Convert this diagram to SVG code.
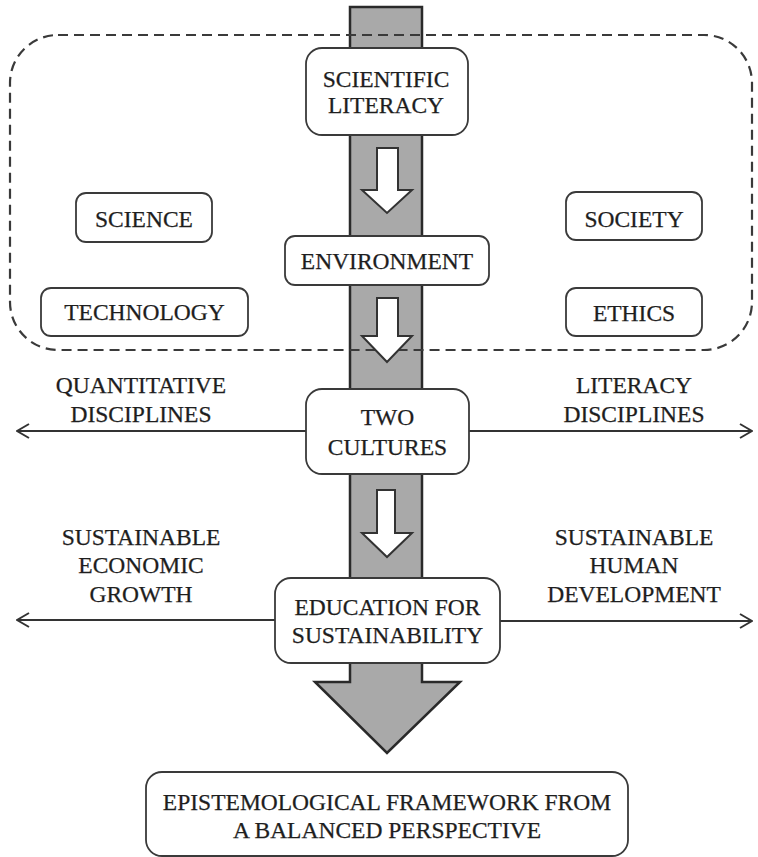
<svg xmlns="http://www.w3.org/2000/svg" width="758" height="857" viewBox="0 0 758 857">
<defs>
<style>
.box{fill:#fff;stroke:#3a3a3a;stroke-width:1.8}
.t{font-family:"Liberation Serif","Times New Roman",serif;font-size:23.5px;fill:#1e1e1e;stroke:#1e1e1e;stroke-width:0.25;text-anchor:middle}
.ln{stroke:#333;stroke-width:2;fill:none}
.wa{fill:#fff;stroke:#333;stroke-width:2;stroke-linejoin:miter}
</style>
<marker id="ah" viewBox="0 0 14 16" refX="13" refY="8" markerWidth="14" markerHeight="16" markerUnits="userSpaceOnUse" orient="auto">
<path d="M1,1 L13,8 L1,15" fill="none" stroke="#333" stroke-width="2"/>
</marker>
</defs>
<rect width="758" height="857" fill="#fff"/>
<g id="shaft">
<polygon points="350,7 422,7 422,682 460,682 387,753 315,682 350,682" fill="#a9a9a9" stroke="#2a2a2a" stroke-width="2.5" stroke-linejoin="miter"/>
</g>
<g id="dashed-group">
<rect x="10" y="35" width="742" height="315" rx="48" fill="none" stroke="#3a3a3a" stroke-width="2.2" stroke-dasharray="10,6"/>
</g>
<g id="connectors">
<line class="ln" x1="306" y1="431" x2="17" y2="431" marker-end="url(#ah)"/>
<line class="ln" x1="469" y1="431" x2="752" y2="431" marker-end="url(#ah)"/>
<line class="ln" x1="275" y1="620" x2="17" y2="620" marker-end="url(#ah)"/>
<line class="ln" x1="500" y1="621" x2="752" y2="621" marker-end="url(#ah)"/>
<polygon class="wa" points="377,148 398,148 398,190 412,190 387,213 362,190 377,190"/>
<polygon class="wa" points="377,298 398,298 398,336 412,336 387,362 362,336 377,336"/>
<polygon class="wa" points="377,490 395,490 395,533 412,533 387,557 362,533 377,533"/>
</g>
<g id="scientific-literacy">
<rect class="box" x="306" y="48" width="162" height="87" rx="16"/>
<text class="t" x="386" y="87">SCIENTIFIC</text>
<text class="t" x="386" y="113">LITERACY</text>
</g>
<g id="environment">
<rect class="box" x="285" y="236" width="204" height="49" rx="10"/>
<text class="t" x="387" y="269">ENVIRONMENT</text>
</g>
<g id="science">
<rect class="box" x="76" y="193" width="136" height="49" rx="10"/>
<text class="t" x="144" y="227">SCIENCE</text>
</g>
<g id="technology">
<rect class="box" x="41" y="288" width="207" height="48" rx="10"/>
<text class="t" x="144.5" y="320">TECHNOLOGY</text>
</g>
<g id="society">
<rect class="box" x="566" y="192" width="136" height="48" rx="10"/>
<text class="t" x="634" y="227">SOCIETY</text>
</g>
<g id="ethics">
<rect class="box" x="566" y="288" width="136" height="48" rx="10"/>
<text class="t" x="634" y="321">ETHICS</text>
</g>
<g id="quantitative">
<text class="t" x="141" y="393">QUANTITATIVE</text>
<text class="t" x="141" y="422">DISCIPLINES</text>
</g>
<g id="literacy">
<text class="t" x="634" y="393">LITERACY</text>
<text class="t" x="634" y="422">DISCIPLINES</text>
</g>
<g id="two-cultures">
<rect class="box" x="306" y="389" width="163" height="85" rx="16"/>
<text class="t" x="387.5" y="425">TWO</text>
<text class="t" x="387.5" y="455">CULTURES</text>
</g>
<g id="sustainable-economic">
<text class="t" x="141" y="545">SUSTAINABLE</text>
<text class="t" x="141" y="573">ECONOMIC</text>
<text class="t" x="141" y="602">GROWTH</text>
</g>
<g id="sustainable-human">
<text class="t" x="634" y="545">SUSTAINABLE</text>
<text class="t" x="634" y="573">HUMAN</text>
<text class="t" x="634" y="602">DEVELOPMENT</text>
</g>
<g id="education">
<rect class="box" x="275" y="578" width="225" height="85" rx="16"/>
<text class="t" x="387.5" y="615">EDUCATION FOR</text>
<text class="t" x="387.5" y="643">SUSTAINABILITY</text>
</g>
<g id="epistemological">
<rect class="box" x="146" y="772" width="482" height="84" rx="16"/>
<text class="t" x="387" y="810">EPISTEMOLOGICAL FRAMEWORK FROM</text>
<text class="t" x="387" y="838">A BALANCED PERSPECTIVE</text>
</g>
</svg>
